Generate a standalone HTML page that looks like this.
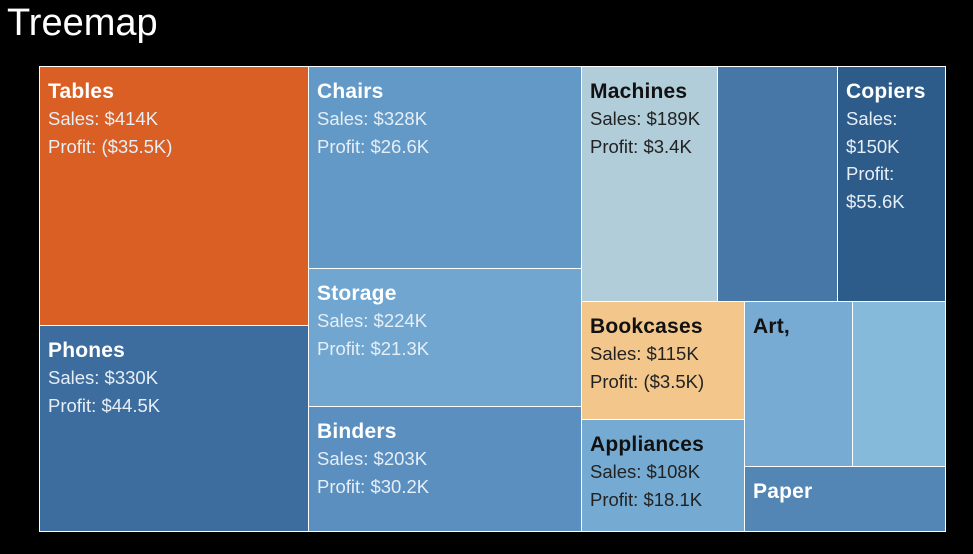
<!DOCTYPE html>
<html><head><meta charset="utf-8"><style>
body{margin:0;background:#000;width:973px;height:554px;overflow:hidden;font-family:"Liberation Sans",sans-serif}
#title{position:absolute;left:7px;top:2px;color:#fff;font-size:38px}
.cell{position:absolute;box-sizing:border-box;border:1px solid #fff;overflow:hidden;padding:12px 8px 0 8px}
.nm{font-size:21px;line-height:26px;font-weight:bold;letter-spacing:0.2px}
.ln{font-size:18.5px;line-height:27.5px}
</style></head><body>
<div id="title">Treemap</div>
<div id="chart"></div>
<script>
const names=["Tables","Phones","Chairs","Storage","Binders","Machines","Accessories","Copiers","Bookcases","Appliances","Art,","Furnishings","Paper"];
const sales=[414,330,328,224,203,189,168,150,115,108,106,91,78];
const salesLabels=["$414K","$330K","$328K","$224K","$203K","$189K","","$150K","$115K","$108K","","",""];
const profitLabels=["($35.5K)","$44.5K","$26.6K","$21.3K","$30.2K","$3.4K","","$55.6K","($3.5K)","$18.1K","","",""];
const showLabel=[1,1,1,1,1,1,0,1,1,1,2,0,2];
const colors=["#d95f25","#3d6d9f","#6399c6","#70a6cf","#5b8fbf","#b1cdd9","#4677a6","#2d5b8a","#f3c68c","#75abd2","#77abd3","#86badb","#5486b5"];
const dark=[0,0,0,0,0,1,0,0,1,1,1,1,0];
// nested structure: h = split horizontally (side-by-side), v = stacked
const tree={d:"h",c:[{d:"v",c:[0,1]},{d:"v",c:[2,3,4]},{d:"v",c:[{d:"h",c:[5,6,7]},{d:"h",c:[{d:"v",c:[8,9]},{d:"v",c:[{d:"h",c:[10,11]},12]}]}]}]};
const X0=39,Y0=66,W=906,H=465;
function total(n){return typeof n==="number"?sales[n]:n.c.reduce((s,k)=>s+total(k),0);}
const chart=document.getElementById('chart');
function layout(n,x,y,w,h,dir){
  if(typeof n==="number"){draw(n,x,y,w,h);return;}
  const t=total(n);let off=0;
  n.c.forEach(k=>{const f=total(k)/t;
    if(n.d==="h"){layout(k,x+off,y,w*f,h);off+=w*f;}
    else{layout(k,x,y+off,w,h*f);off+=h*f;}
  });
}
function draw(i,x,y,w,h){
  const d=document.createElement('div');
  d.className='cell';
  
  
  d.style.left=Math.round(x)+'px';d.style.top=Math.round(y)+'px';
  d.style.width=(Math.round(x+w)-Math.round(x)+1)+'px';d.style.height=(Math.round(y+h)-Math.round(y)+1)+'px';
  d.style.background=colors[i];
  d.style.color=dark[i]?'#111':'#fff';
  if(showLabel[i]>=1){
    let html='<div class="nm">'+names[i]+'</div>';
    if(showLabel[i]===1){
      const sub=dark[i]?'#222':'#e6eef6';
      html+='<div class="ln" style="color:'+sub+'">Sales: '+salesLabels[i]+'</div><div class="ln" style="color:'+sub+'">Profit: '+profitLabels[i]+'</div>';
    }
    d.innerHTML=html;
  }
  chart.appendChild(d);
}
layout(tree,X0,Y0,W,H);
</script>
</body></html>
